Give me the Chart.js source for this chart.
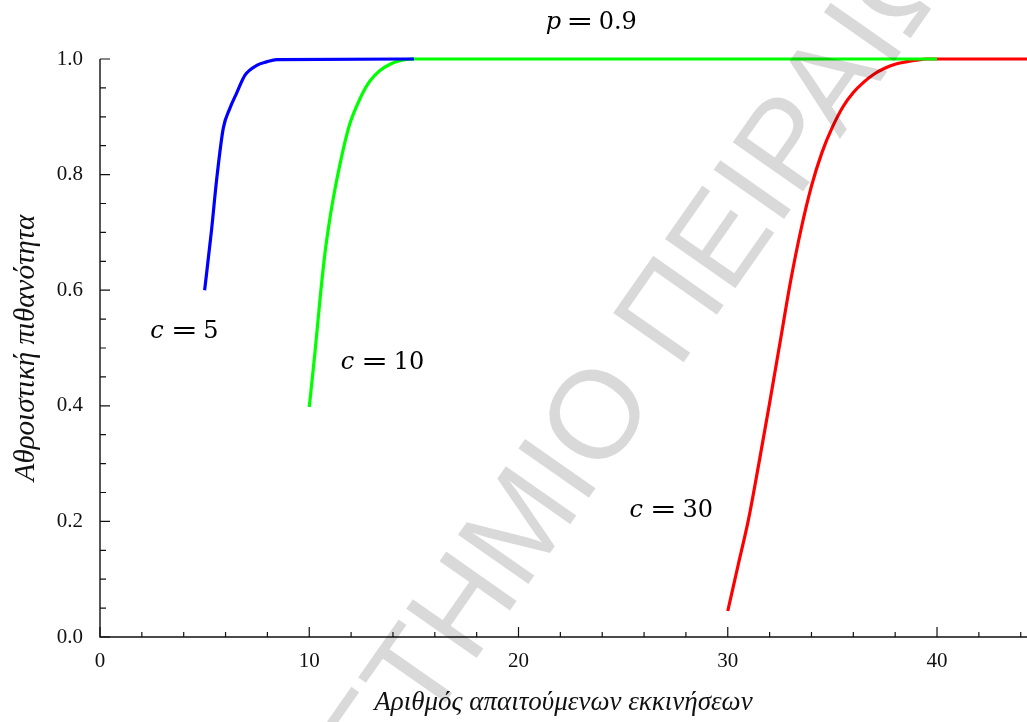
<!DOCTYPE html>
<html>
<head>
<meta charset="utf-8">
<script src="https://cdn.jsdelivr.net/npm/chart.js@4.4.1/dist/chart.umd.min.js"></script>
<style>
  html, body { margin: 0; padding: 0; background: #fff; }
  #wrap { width: 1027px; height: 722px; }
</style>
</head>
<body>
<div id="wrap"><canvas id="myChart" width="1027" height="722"></canvas></div>
<script>
// cumulative probability curves, p = 0.9
var c5X  = [5, 5.33, 5.57, 5.89, 6.21, 6.53, 6.93, 7.49, 7.96, 8.44, 15];
var c5Y  = [0.600, 0.704, 0.790, 0.880, 0.915, 0.941, 0.972, 0.989, 0.995, 0.999, 1.0];
var c10X = [10, 10.27, 10.51, 10.75, 10.99, 11.23, 11.47, 11.71, 11.94, 12.26, 12.58, 12.90, 13.38, 13.86, 14.33, 14.9, 40];
var c10Y = [0.398, 0.491, 0.583, 0.664, 0.725, 0.775, 0.818, 0.857, 0.888, 0.918, 0.943, 0.962, 0.980, 0.991, 0.997, 1.0, 1.0];
var c30X = [30, 30.5, 31, 31.5, 32, 32.5, 33, 33.5, 34, 34.5, 35, 35.5, 36, 36.5, 37, 37.5, 38, 38.5, 39, 39.5, 45];
var c30Y = [0.045, 0.125, 0.205, 0.303, 0.405, 0.510, 0.615, 0.705, 0.780, 0.838, 0.882, 0.917, 0.942, 0.960, 0.974, 0.984, 0.991, 0.995, 0.998, 1.0, 1.0];

var xTickValues = [0, 10, 20, 30, 40];
var xTickLabels = ['0', '10', '20', '30', '40'];
var yTickValues = [0, 0.2, 0.4, 0.6, 0.8, 1.0];
var yTickLabels = ['0.0', '0.2', '0.4', '0.6', '0.8', '1.0'];

var curveLabels = [
    { name: 'p', value: '0.9', x: 21.3, y: 1.052 },
    { name: 'c', value: '5',   x: 2.4,  y: 0.517 },
    { name: 'c', value: '10',  x: 11.5, y: 0.464 },
    { name: 'c', value: '30',  x: 25.3, y: 0.207 }
];

var watermark = 'ΠΑΝΕΠΙΣΤΗΜΙΟ ΠΕΙΡΑΙΩΣ';

function toPoints(xs, ys) {
    return xs.map(function(x, i) { return { x: x, y: ys[i] }; });
}

function lookup(values, labels, v) {
    for (var i = 0; i < values.length; i++) {
        if (Math.abs(values[i] - v) < 1e-6) return labels[i];
    }
    return '';
}

var serif = '"Liberation Serif", "Times New Roman", serif';

// axes with inward ticks (major + minor)
var axesPlugin = {
    id: 'axes',
    beforeDatasetsDraw: function(chart) {
        var ctx = chart.ctx, a = chart.chartArea;
        var xs = chart.scales.x, ys = chart.scales.y;
        ctx.save();
        ctx.strokeStyle = '#111';
        ctx.lineWidth = 1.4;
        ctx.beginPath();
        ctx.moveTo(a.left, a.top);
        ctx.lineTo(a.left, a.bottom);
        ctx.lineTo(a.right, a.bottom);
        ctx.stroke();

        ctx.lineWidth = 1.2;
        ctx.beginPath();
        for (var v = 0; v <= xs.max; v += 2) {
            var px = xs.getPixelForValue(v);
            var len = v % 10 === 0 ? 10 : 5;
            ctx.moveTo(px, a.bottom);
            ctx.lineTo(px, a.bottom - len);
        }
        for (var i = 0; i <= 20; i++) {
            var py = ys.getPixelForValue(i * 0.05);
            var l = i % 4 === 0 ? 10 : 6;
            ctx.moveTo(a.left, py);
            ctx.lineTo(a.left + l, py);
        }
        ctx.stroke();
        ctx.restore();
    }
};

// "c = 5" style labels next to each curve, plus p = 0.9 on top
var labelPlugin = {
    id: 'curveLabels',
    afterDraw: function(chart) {
        var ctx = chart.ctx;
        var xs = chart.scales.x, ys = chart.scales.y;
        ctx.save();
        ctx.fillStyle = '#000';
        ctx.textBaseline = 'alphabetic';
        ctx.textAlign = 'left';
        curveLabels.forEach(function(lb) {
            var x0 = xs.getPixelForValue(lb.x);
            var y0 = ys.getPixelForValue(lb.y);
            ctx.font = 'italic 24px "DejaVu Serif", serif';
            ctx.fillText(lb.name, x0, y0);
            ctx.save();
            ctx.translate(x0 + 34, y0);
            ctx.scale(1.35, 1);
            ctx.font = '24px "DejaVu Serif", serif';
            ctx.textAlign = 'center';
            ctx.fillText('=', 0, 0);
            ctx.restore();
            ctx.font = '24px "DejaVu Serif", serif';
            ctx.fillText(lb.value, x0 + 53, y0);
        });
        ctx.restore();
    }
};

// faint diagonal watermark over the whole figure
var watermarkPlugin = {
    id: 'watermark',
    afterDraw: function(chart) {
        var ctx = chart.ctx;
        ctx.save();
        ctx.font = '125px "Liberation Sans", Arial, sans-serif';
        ctx.fillStyle = 'rgba(0, 0, 0, 0.15)';
        ctx.textBaseline = 'alphabetic';
        ctx.textAlign = 'left';
        var head = ctx.measureText('ΠΑΝΕΠΙΣΤΗΜΙ').width + ctx.measureText('Ο').width / 2;
        ctx.translate(630, 439);
        ctx.rotate(-55 * Math.PI / 180);
        ctx.fillText(watermark, -head, 0);
        ctx.restore();
    }
};

var canvas = document.getElementById('myChart');
var ctx = canvas.getContext('2d');

var myChart = new Chart(ctx, {
    type: 'line',
    data: {
        datasets: [{
            label: 'c = 5',
            data: toPoints(c5X, c5Y),
            borderColor: '#0000ff',
            borderWidth: 3.2,
            clip: false
        }, {
            label: 'c = 10',
            data: toPoints(c10X, c10Y),
            borderColor: '#00ff00',
            borderWidth: 3.2,
            clip: false
        }, {
            label: 'c = 30',
            data: toPoints(c30X, c30Y),
            borderColor: '#ff0000',
            borderWidth: 3.2,
            clip: false
        }]
    },
    options: {
        responsive: false,
        animation: false,
        parsing: false,
        cubicInterpolationMode: 'monotone',
        elements: {
            point: { radius: 0 },
            line: { borderCapStyle: 'butt' }
        },
        layout: {
            padding: { top: 59, right: 0, bottom: 0, left: 0 }
        },
        plugins: {
            legend: { display: false },
            tooltip: { enabled: false }
        },
        scales: {
            x: {
                type: 'linear',
                min: 0,
                max: 44.3,
                grid: { display: false, drawTicks: false },
                border: { display: false },
                ticks: {
                    stepSize: 10,
                    includeBounds: false,
                    autoSkip: false,
                    maxRotation: 0,
                    padding: 12,
                    color: '#111',
                    font: { family: serif, size: 21 },
                    callback: function(v) { return lookup(xTickValues, xTickLabels, v); }
                },
                title: {
                    display: true,
                    text: 'Αριθμός απαιτούμενων εκκινήσεων',
                    color: '#111',
                    font: { family: serif, size: 27, style: 'italic' },
                    padding: { top: 0, bottom: 3 }
                },
                afterFit: function(scale) { scale.height = 85; }
            },
            y: {
                type: 'linear',
                min: 0,
                max: 1,
                grid: { display: false, drawTicks: false },
                border: { display: false },
                ticks: {
                    stepSize: 0.2,
                    padding: 17,
                    color: '#111',
                    font: { family: serif, size: 21 },
                    callback: function(v) { return lookup(yTickValues, yTickLabels, v); }
                },
                title: {
                    display: true,
                    text: 'Αθροιστική πιθανότητα',
                    color: '#111',
                    font: { family: serif, size: 29, style: 'italic' },
                    padding: { top: 9, bottom: 0 }
                },
                afterFit: function(scale) { scale.width = 100; }
            }
        }
    },
    plugins: [axesPlugin, labelPlugin, watermarkPlugin]
});
</script>
</body>
</html>
